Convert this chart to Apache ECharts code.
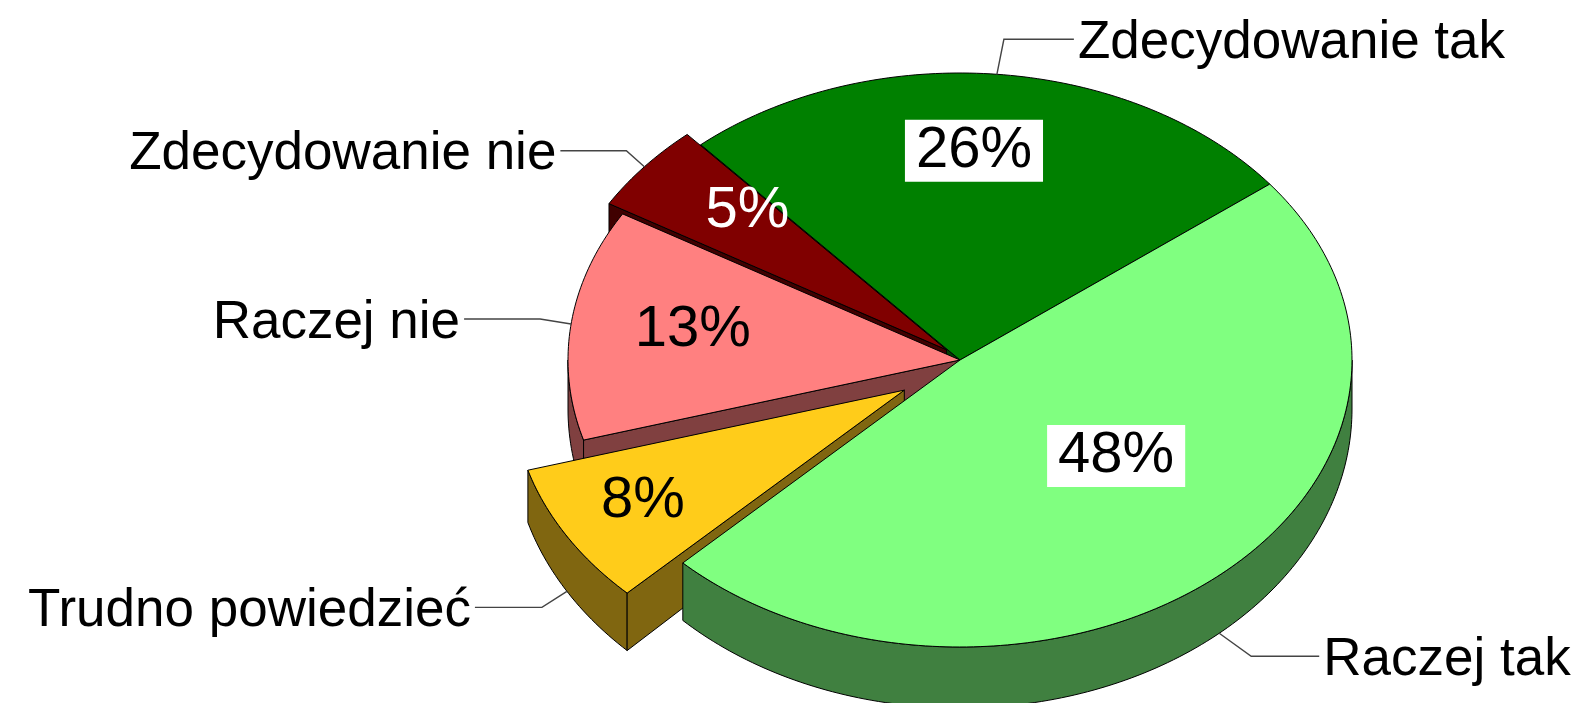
<!DOCTYPE html>
<html>
<head>
<meta charset="utf-8">
<title>Ocena - wykres kołowy</title>
<script src="https://cdn.jsdelivr.net/npm/echarts@6/dist/echarts.min.js"></script>
<style>
html, body { margin: 0; padding: 0; background: #fff; }
#main { width: 1575px; height: 703px; }
</style>
</head>
<body>
<div id="main"></div>
<script>
// dane
var categories = ['Zdecydowanie tak', 'Raczej tak', 'Trudno powiedzieć', 'Raczej nie', 'Zdecydowanie nie'];
var values = [26, 48, 8, 13, 5];

// wygląd
var topColors = ['#008000', '#80ff80', '#ffcc1a', '#ff8080', '#800000'];
var sideColors = ['#004000', '#408040', '#806610', '#804040', '#400000'];
var pctColors = ['#000', '#000', '#000', '#000', '#fff'];
var pctBoxed = [true, true, false, false, false];
var explode = [0, 0, 0.165, 0, 0.045];
// położenie etykiet procentowych: [przesunięcie kąta w stopniach, ułamek promienia]
var pctPlace = [[-2.6, 0.73], [-8.6, 0.52], [0.6, 0.77], [1.6, 0.69], [3.9, 0.70]];
// linie odniesienia: [dx załamania, dy załamania, długość poziomego odcinka]
var leaders = [[7, -35, 70], [32, 23, 68], [-25, 16, 67], [-31, -5, 76], [-18, -16, 66]];

var cx = 960, cy = 360, rx = 392, ry = 287, depth = 49, ryB = 299;
var startAngle = -131.4;
var FONT = '"Liberation Sans", Arial, Helvetica, sans-serif';

var total = values.reduce(function (s, v) { return s + v; }, 0);

function sliceAngles(i) {
    var a = startAngle;
    for (var k = 0; k < i; k++) a += values[k] / total * 360;
    return [a * Math.PI / 180, (a + values[i] / total * 360) * Math.PI / 180];
}
function topPt(t, r, off) {
    return [cx + off[0] + rx * r * Math.cos(t), cy + off[1] + ry * r * Math.sin(t)];
}
function botPt(t, off) {
    return [cx + off[0] + rx * Math.cos(t), cy + depth + off[1] + ryB * Math.sin(t)];
}
function arcPts(lo, hi, fn) {
    var pts = [];
    var n = Math.max(2, Math.ceil((hi - lo) / (Math.PI / 180)));
    for (var s = 0; s <= n; s++) pts.push(fn(lo + (hi - lo) * s / n));
    return pts;
}

function renderItem(params, api) {
    var i = params.dataIndex;
    var ang = sliceAngles(i);
    var a = ang[0], b = ang[1], m = (a + b) / 2;
    var e = explode[i];
    // przód wygląda na bliższy, więc przesunięcie w pionie trochę większe
    var off = [e * rx * Math.cos(m), e * ry * 1.25 * Math.sin(m)];
    var c0 = [cx + off[0], cy + off[1]];
    var c1 = [cx + off[0], cy + depth + off[1]];
    var wallZ = Math.round(Math.sin(m) * 100) + 100;
    var children = [];

    // zewnętrzna ściana - tylko część widoczna z przodu
    for (var k = -1; k <= 2; k++) {
        var lo = Math.max(a, 2 * k * Math.PI), hi = Math.min(b, 2 * k * Math.PI + Math.PI);
        if (hi > lo) {
            var up = arcPts(lo, hi, function (t) { return topPt(t, 1, off); });
            var dn = arcPts(lo, hi, function (t) { return botPt(t, off); }).reverse();
            children.push({
                type: 'polygon', z2: wallZ,
                shape: { points: up.concat(dn) },
                style: { fill: sideColors[i], stroke: '#000', lineWidth: 1 }
            });
        }
    }
    // ściany promieniowe
    function radial(t) {
        children.push({
            type: 'polygon', z2: wallZ,
            shape: { points: [c0, topPt(t, 1, off), botPt(t, off), c1] },
            style: { fill: sideColors[i], stroke: '#000', lineWidth: 1 }
        });
    }
    if (Math.cos(a) < 0) radial(a);
    if (Math.cos(b) > 0) radial(b);

    // wierzch
    children.push({
        type: 'polygon', z2: 300,
        shape: { points: [c0].concat(arcPts(a, b, function (t) { return topPt(t, 1, off); })) },
        style: { fill: topColors[i], stroke: '#000', lineWidth: 1 }
    });

    // etykieta procentowa
    var pp = topPt(m + pctPlace[i][0] * Math.PI / 180, pctPlace[i][1], off);
    children.push({
        type: 'text', z2: 400,
        style: {
            text: api.value(0) + '%', x: pp[0], y: pp[1],
            fill: pctColors[i], font: '58px ' + FONT,
            align: 'center', verticalAlign: 'middle',
            backgroundColor: pctBoxed[i] ? '#fff' : 'transparent',
            padding: pctBoxed[i] ? [3, 11, 1, 11] : 0
        }
    });

    // nazwa z linią odniesienia
    var anchor = Math.sin(m) > 0.3 ? botPt(m, off) : topPt(m, 1, off);
    var L = leaders[i];
    var elbow = [anchor[0] + L[0], anchor[1] + L[1]];
    var dir = L[0] >= 0 ? 1 : -1;
    var end = [elbow[0] + dir * L[2], elbow[1]];
    children.push({
        type: 'polyline', z2: 400,
        shape: { points: [anchor, elbow, end] },
        style: { stroke: '#444', lineWidth: 1.4, fill: null }
    });
    children.push({
        type: 'text', z2: 400,
        style: {
            text: categories[i], x: end[0] + dir * 4, y: elbow[1] + 4,
            fill: '#000', font: '53px ' + FONT,
            align: dir > 0 ? 'left' : 'right', verticalAlign: 'middle'
        }
    });

    return { type: 'group', children: children };
}

var chart = echarts.init(document.getElementById('main'));
chart.setOption({
    animation: false,
    backgroundColor: '#fff',
    series: [{
        type: 'custom',
        coordinateSystem: 'none',
        renderItem: renderItem,
        data: values.map(function (v, i) { return { name: categories[i], value: [v] }; })
    }]
});
</script>
</body>
</html>
